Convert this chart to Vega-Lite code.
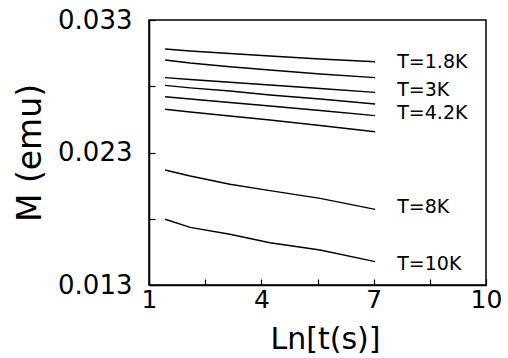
{
  "$schema": "https://vega.github.io/schema/vega-lite/v6.json",
  "width": 337,
  "height": 265,
  "autosize": "none",
  "padding": {"left": 149, "top": 20, "right": 22, "bottom": 73},
  "background": "white",
  "config": {
    "view": {"stroke": "black", "strokeWidth": 1.5},
    "font": "DejaVu Sans",
    "axis": {
      "grid": false,
      "domainColor": "black",
      "domainWidth": 1.5,
      "tickColor": "black",
      "tickWidth": 1.2,
      "labelColor": "black",
      "titleColor": "black",
      "labelFont": "DejaVu Sans",
      "titleFont": "DejaVu Sans",
      "titleFontWeight": "normal"
    }
  },
  "datasets": {
    "curves": [
      {"x": 1.43, "M": 0.03081, "T": "1.8K"},
      {"x": 2.10, "M": 0.03066, "T": "1.8K"},
      {"x": 3.16, "M": 0.03047, "T": "1.8K"},
      {"x": 4.23, "M": 0.03028, "T": "1.8K"},
      {"x": 5.57, "M": 0.03006, "T": "1.8K"},
      {"x": 7.04, "M": 0.02985, "T": "1.8K"},
      {"x": 1.43, "M": 0.02998, "T": "2.4K"},
      {"x": 2.10, "M": 0.02975, "T": "2.4K"},
      {"x": 3.16, "M": 0.02947, "T": "2.4K"},
      {"x": 4.23, "M": 0.02923, "T": "2.4K"},
      {"x": 5.57, "M": 0.02892, "T": "2.4K"},
      {"x": 7.04, "M": 0.02865, "T": "2.4K"},
      {"x": 1.43, "M": 0.02865, "T": "3K"},
      {"x": 2.10, "M": 0.02851, "T": "3K"},
      {"x": 3.16, "M": 0.02830, "T": "3K"},
      {"x": 4.23, "M": 0.02809, "T": "3K"},
      {"x": 5.57, "M": 0.02783, "T": "3K"},
      {"x": 7.04, "M": 0.02754, "T": "3K"},
      {"x": 1.43, "M": 0.02807, "T": "3.6K"},
      {"x": 2.10, "M": 0.02788, "T": "3.6K"},
      {"x": 3.16, "M": 0.02764, "T": "3.6K"},
      {"x": 4.23, "M": 0.02734, "T": "3.6K"},
      {"x": 5.57, "M": 0.02704, "T": "3.6K"},
      {"x": 7.04, "M": 0.02666, "T": "3.6K"},
      {"x": 1.43, "M": 0.02721, "T": "4.2K"},
      {"x": 2.10, "M": 0.02704, "T": "4.2K"},
      {"x": 3.16, "M": 0.02677, "T": "4.2K"},
      {"x": 4.23, "M": 0.02651, "T": "4.2K"},
      {"x": 5.57, "M": 0.02617, "T": "4.2K"},
      {"x": 7.04, "M": 0.02578, "T": "4.2K"},
      {"x": 1.43, "M": 0.02626, "T": "6K"},
      {"x": 2.10, "M": 0.02606, "T": "6K"},
      {"x": 3.16, "M": 0.02575, "T": "6K"},
      {"x": 4.23, "M": 0.02545, "T": "6K"},
      {"x": 5.57, "M": 0.02504, "T": "6K"},
      {"x": 7.04, "M": 0.02457, "T": "6K"},
      {"x": 1.43, "M": 0.02168, "T": "8K"},
      {"x": 2.10, "M": 0.02123, "T": "8K"},
      {"x": 3.16, "M": 0.02060, "T": "8K"},
      {"x": 4.23, "M": 0.02012, "T": "8K"},
      {"x": 5.57, "M": 0.01954, "T": "8K"},
      {"x": 7.04, "M": 0.01871, "T": "8K"},
      {"x": 1.43, "M": 0.01796, "T": "10K"},
      {"x": 2.10, "M": 0.01735, "T": "10K"},
      {"x": 3.16, "M": 0.01683, "T": "10K"},
      {"x": 4.23, "M": 0.01619, "T": "10K"},
      {"x": 5.57, "M": 0.01564, "T": "10K"},
      {"x": 7.04, "M": 0.01476, "T": "10K"}
    ],
    "labels": [
      {"x": 7.63, "M": 0.02985, "label": "T=1.8K"},
      {"x": 7.63, "M": 0.02772, "label": "T=3K"},
      {"x": 7.63, "M": 0.02598, "label": "T=4.2K"},
      {"x": 7.63, "M": 0.01889, "label": "T=8K"},
      {"x": 7.63, "M": 0.01458, "label": "T=10K"}
    ]
  },
  "layer": [
    {
      "data": {"name": "curves"},
      "mark": {"type": "line", "color": "black", "strokeWidth": 1.4},
      "encoding": {
        "x": {
          "field": "x", "type": "quantitative",
          "scale": {"domain": [1, 10], "nice": false, "zero": false},
          "axis": {
            "title": "Ln[t(s)]",
            "titleFontSize": 30,
            "titlePadding": 12,
            "titleX": 176,
            "values": [1, 2.5, 4, 5.5, 7, 8.5, 10],
            "labelExpr": "(datum.value == 2.5 || datum.value == 5.5 || datum.value == 8.5) ? '' : format(datum.value, 'd')",
            "labelFontSize": 25,
            "labelPadding": 8,
            "tickSize": -6,
            "labelFlush": false,
            "labelOverlap": false
          }
        },
        "y": {
          "field": "M", "type": "quantitative",
          "scale": {"domain": [0.013, 0.033], "nice": false, "zero": false},
          "axis": {
            "title": "M (emu)",
            "titleFontSize": 33,
            "titlePadding": 10,
            "values": [0.013, 0.018, 0.023, 0.028, 0.033],
            "labelExpr": "(abs(datum.value - 0.018) < 0.000001 || abs(datum.value - 0.028) < 0.000001) ? '' : format(datum.value, '.3f')",
            "labelFontSize": 26,
            "labelPadding": 23,
            "tickSize": -6,
            "labelFlush": false,
            "labelOverlap": false
          }
        },
        "detail": {"field": "T", "type": "nominal"}
      }
    },
    {
      "data": {"name": "labels"},
      "mark": {"type": "text", "align": "left", "baseline": "middle", "fontSize": 19, "font": "DejaVu Sans", "color": "black"},
      "encoding": {
        "x": {"field": "x", "type": "quantitative"},
        "y": {"field": "M", "type": "quantitative"},
        "text": {"field": "label", "type": "nominal"}
      }
    }
  ]
}
